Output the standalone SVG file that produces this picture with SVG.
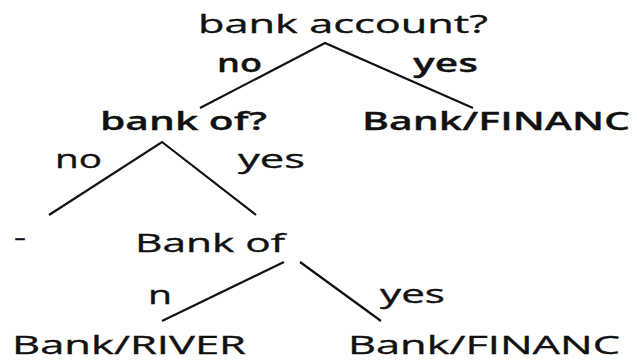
<svg xmlns="http://www.w3.org/2000/svg" width="637" height="362" viewBox="0 0 637 362">
<style>
text{font-family:"Open Sans","Liberation Sans",sans-serif;font-size:26px;fill:#111;stroke:#111;stroke-width:0.35}
.b{font-weight:600;stroke-width:0.3}
.edge{stroke:#111;stroke-width:2.2;fill:none;stroke-linecap:butt}
</style>
<rect width="637" height="362" fill="#fff"/>
<g id="connectors">
<polyline class="edge" points="200,108 325,43 473,108"/>
<polyline class="edge" points="49,215 162,142 256,215"/>
<line class="edge" x1="284" y1="262" x2="162" y2="321"/>
<line class="edge" x1="300" y1="262" x2="381" y2="321"/>
<text x="217" y="72" textLength="45" lengthAdjust="spacingAndGlyphs" class="b">no</text>
<text x="413" y="72" textLength="65" lengthAdjust="spacingAndGlyphs" class="b">yes</text>
<text x="55" y="168" textLength="47" lengthAdjust="spacingAndGlyphs">no</text>
<text x="238" y="168" textLength="67" lengthAdjust="spacingAndGlyphs">yes</text>
<text x="148" y="304" textLength="24" lengthAdjust="spacingAndGlyphs">n</text>
<text x="380" y="303" textLength="65" lengthAdjust="spacingAndGlyphs">yes</text>
</g>
<g id="root"><text x="198" y="33" textLength="290" lengthAdjust="spacingAndGlyphs">bank account?</text></g>
<g id="bankof"><text x="100" y="130" textLength="167" lengthAdjust="spacingAndGlyphs" class="b">bank of?</text></g>
<g id="financ1"><text x="362" y="130" textLength="268" lengthAdjust="spacingAndGlyphs" class="b">Bank/FINANC</text></g>
<g id="dash"><text x="14" y="246" textLength="12" lengthAdjust="spacingAndGlyphs">-</text></g>
<g id="bankof2"><text x="135" y="252" textLength="150" lengthAdjust="spacingAndGlyphs">Bank of</text></g>
<g id="river"><text x="12" y="354" textLength="234" lengthAdjust="spacingAndGlyphs">Bank/RIVER</text></g>
<g id="financ2"><text x="348" y="354" textLength="272" lengthAdjust="spacingAndGlyphs">Bank/FINANC</text></g>
</svg>
